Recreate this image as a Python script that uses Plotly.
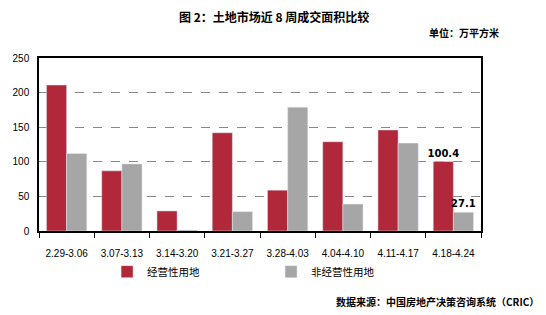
import plotly.graph_objects as go

categories = ["2.29-3.06", "3.07-3.13", "3.14-3.20", "3.21-3.27", "3.28-4.03", "4.04-4.10", "4.11-4.17", "4.18-4.24"]
operating = [211, 87, 29, 142, 59, 129, 146, 100.4]
non_operating = [112, 97, 1.5, 28, 179, 39, 127, 27.1]
operating_labels = ["", "", "", "", "", "", "", "100.4"]
non_operating_labels = ["", "", "", "", "", "", "", "27.1"]
y_ticks = [0, 50, 100, 150, 200, 250]

label_font = dict(family="DejaVu Sans", size=10, color="black", weight="bold")

fig = go.Figure()
fig.add_trace(go.Bar(x=categories, y=operating, name="经营性用地", marker_color="#B0283A",
                     text=operating_labels, textposition="outside", cliponaxis=False,
                     constraintext="none", textangle=0, textfont=label_font, legend="legend"))
fig.add_trace(go.Bar(x=categories, y=non_operating, name="非经营性用地", marker_color="#A6A6A6",
                     text=non_operating_labels, textposition="outside", cliponaxis=False,
                     constraintext="none", textangle=0, textfont=label_font, legend="legend2"))

legend_common = dict(orientation="h", y=-0.235, yanchor="middle", xanchor="left",
                     font=dict(family="Noto Sans CJK SC", size=10.5), bgcolor="rgba(0,0,0,0)",
                     itemwidth=30)

fig.update_layout(
    width=546, height=315,
    margin=dict(l=39, r=65, t=58, b=84),
    paper_bgcolor="white", plot_bgcolor="white",
    barmode="group", bargap=0.27, bargroupgap=0,
    font=dict(family="Liberation Sans, Noto Sans CJK SC", size=10, color="black"),
    showlegend=True,
    legend=dict(x=0.154, **legend_common),
    legend2=dict(x=0.525, **legend_common),
    xaxis=dict(showline=True, linecolor="black", linewidth=1.5, mirror=True,
               ticks="outside", tickson="boundaries", ticklen=5, tickcolor="black",
               ticklabelstandoff=12,
               tickfont=dict(family="Liberation Sans", size=10)),
    yaxis=dict(range=[0, 250], tickvals=y_ticks, showline=True, linecolor="black", linewidth=1.5, mirror=True,
               showgrid=True, gridcolor="#888888", griddash="dash", gridwidth=1,
               ticks="", ticklabelstandoff=6, tickfont=dict(family="Liberation Sans", size=10), zeroline=False),
    annotations=[
        dict(text="<b>图 2：土地市场近 8 周成交面积比较</b>", xref="paper", yref="paper",
             x=0.531, y=1.237, xanchor="center", yanchor="middle", showarrow=False,
             font=dict(family="Noto Sans CJK SC", size=12, color="black")),
        dict(text="<b>单位：万平方米</b>", xref="paper", yref="paper",
             x=1.045, y=1.145, xanchor="right", yanchor="middle", showarrow=False,
             font=dict(family="Noto Sans CJK SC", size=10, color="black")),
        dict(text="<b>数据来源：中国房地产决策咨询系统（CRIC）</b>", xref="paper", yref="paper",
             x=1.136, y=-0.41, xanchor="right", yanchor="middle", showarrow=False,
             font=dict(family="Noto Sans CJK SC", size=10, color="black")),
    ],
)

fig.write_html("out.html")
